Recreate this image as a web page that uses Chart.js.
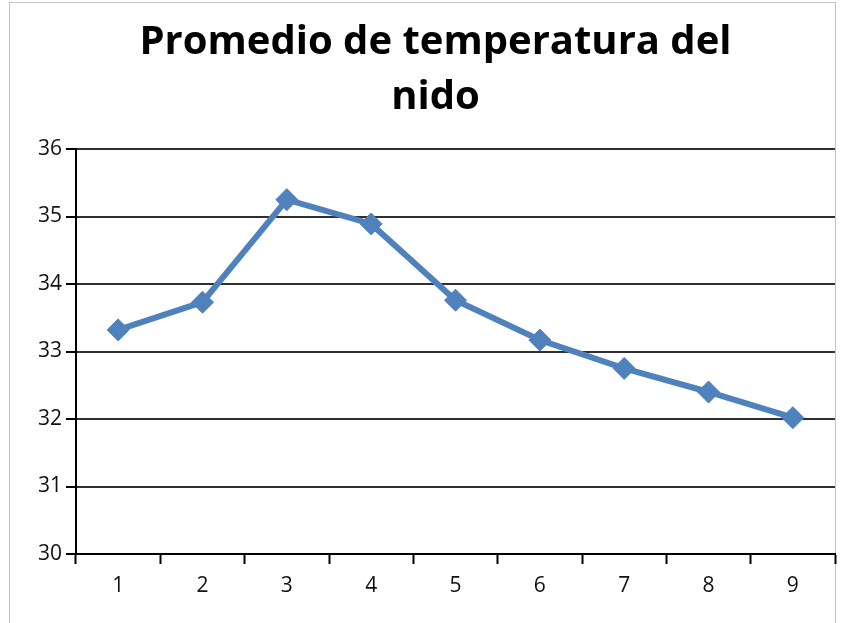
<!DOCTYPE html>
<html>
<head>
<meta charset="utf-8">
<script src="https://cdn.jsdelivr.net/npm/chart.js@4/dist/chart.umd.min.js"></script>
<style>
  html, body { margin: 0; padding: 0; background: #fff; }
  body { width: 849px; height: 623px; position: relative; overflow: hidden; }
  .frame { position: absolute; left: 9px; top: 2px; width: 827px; height: 700px; border: 1px solid #c4c4c4; box-sizing: border-box; }
  #chart { position: absolute; left: 0; top: 0; }
</style>
</head>
<body>
<div class="frame"></div>
<canvas id="chart" width="849" height="623"></canvas>
<script>
'use strict';

// ── 데이터 ──────────────────────────────────────────
const TITLE_LINES = ['Promedio de temperatura del', 'nido'];
const DAYS = ['1', '2', '3', '4', '5', '6', '7', '8', '9'];
const TEMPS = [33.32, 33.73, 35.25, 34.89, 33.76, 33.17, 32.75, 32.40, 32.02];
const Y_MIN = 30;
const Y_MAX = 36;

const BLUE = '#4F81BD';
const FONT = '"Open Sans", "Liberation Sans", sans-serif';

// ── 차트 ────────────────────────────────────────────
new Chart(document.getElementById('chart'), {
  type: 'line',
  data: {
    labels: DAYS,
    datasets: [{
      data: TEMPS,
      borderColor: BLUE,
      backgroundColor: BLUE,
      borderWidth: 6,
      pointStyle: 'rectRot',
      pointRadius: 11,
      pointBorderWidth: 1,
      pointBackgroundColor: BLUE,
      pointBorderColor: BLUE,
      tension: 0,
    }]
  },
  options: {
    responsive: false,
    animation: false,
    devicePixelRatio: 1,
    // 왼쪽 여백 36 → 제목이 가운데(435px) 정렬됨
    layout: { padding: { left: 36, right: 14, top: 0, bottom: 0 } },
    plugins: {
      legend: { display: false },
      tooltip: { enabled: false },
      title: {
        display: true,
        text: TITLE_LINES,
        color: '#000',
        font: { family: FONT, size: 40, weight: 'bold', lineHeight: 1.375 },
        padding: { top: 15, bottom: 24 },
      }
    },
    scales: {
      x: {
        offset: true,
        grid: {
          offset: true,
          drawOnChartArea: false,
          drawTicks: true,
          tickLength: 10,
          tickWidth: 2,
          tickColor: '#000',
        },
        border: { color: '#000', width: 2 },
        ticks: { color: '#111', padding: 9, font: { family: FONT, size: 21 } },
        afterFit: s => { s.height = 69; },
      },
      y: {
        min: Y_MIN,
        max: Y_MAX,
        grid: {
          color: '#303030',
          lineWidth: 2,
          tickLength: 10,
          tickColor: '#000',
        },
        border: { color: '#000', width: 2 },
        ticks: { stepSize: 1, color: '#111', padding: 4, font: { family: FONT, size: 21 } },
        afterFit: s => { s.width = 40; },
      }
    }
  }
});
</script>
</body>
</html>
